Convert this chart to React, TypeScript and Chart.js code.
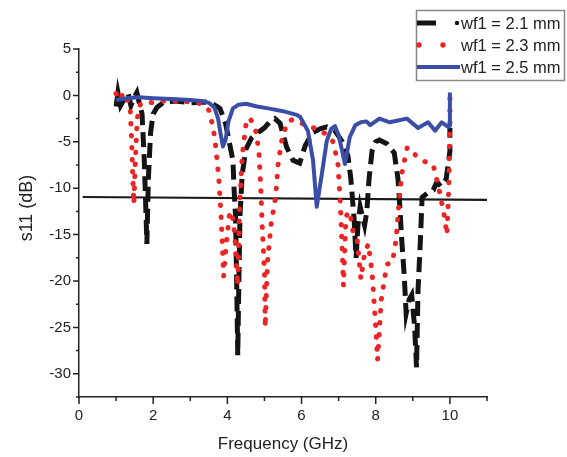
import React, { useEffect, useRef } from 'react';
import { Chart, registerables } from 'chart.js';

Chart.register(...registerables);

// ---- data ----
const seriesLabels = ['wf1 = 2.1 mm', 'wf1 = 2.3 mm', 'wf1 = 2.5 mm'];

const freq21 = [1.0, 1.05, 1.12, 1.22, 1.32, 1.4, 1.48, 1.56, 1.63, 1.7, 1.76, 1.8, 1.83, 1.87, 1.93, 2.0, 2.1, 2.26, 2.6, 3.0, 3.4, 3.6, 3.8, 3.95, 4.05, 4.15, 4.18, 4.22, 4.25, 4.28, 4.31, 4.34, 4.4, 4.5, 4.65, 4.83, 5.0, 5.15, 5.28, 5.42, 5.6, 5.77, 5.95, 6.1, 6.3, 6.5, 6.68, 6.9, 7.1, 7.25, 7.33, 7.38, 7.42, 7.47, 7.52, 7.58, 7.7, 7.76, 7.82, 7.9, 8.0, 8.1, 8.3, 8.5, 8.6, 8.65, 8.7, 8.77, 8.82, 8.9, 8.97, 9.05, 9.1, 9.14, 9.2, 9.25, 9.4, 9.55, 9.65, 9.75, 9.9, 10.0, 10.0];
const s11_21 = [-1.2, 0.3, -1.1, -0.4, 0.3, -1.1, -0.3, 0.3, -0.9, -2, -7, -12, -16, -9, -4, -2, -1.3, -0.8, -0.6, -0.8, -0.7, -0.9, -1.4, -3, -5, -7, -10, -13, -20, -28, -20, -13, -8.5, -5.8, -4.6, -4, -3.5, -2.8, -2.5, -3.0, -5.6, -7, -7.3, -5.4, -4, -3.6, -3.4, -3.8, -5, -6.5, -9, -11.5, -13.5, -17.5, -14, -12, -14, -12.5, -9, -6, -5, -4.8, -5.2, -6.2, -9, -12, -15.5, -19.5, -23.5, -22, -21.5, -25, -29.3, -21, -16, -11, -10.5, -10.2, -9.3, -9.8, -9, -6, -3.5];

const freq23 = [1.0, 1.1, 1.2, 1.3, 1.38, 1.42, 1.45, 1.48, 1.52, 1.57, 1.65, 1.8, 2.0, 2.3, 2.7, 3.0, 3.3, 3.5, 3.62, 3.7, 3.77, 3.83, 3.9, 3.97, 4.05, 4.12, 4.2, 4.28, 4.33, 4.4, 4.5, 4.6, 4.75, 4.85, 4.9, 4.95, 5.0, 5.02, 5.08, 5.18, 5.3, 5.37, 5.47, 5.6, 5.75, 6.0, 6.2, 6.45, 6.7, 6.85, 6.98, 7.05, 7.1, 7.13, 7.2, 7.3, 7.4, 7.5, 7.6, 7.7, 7.8, 7.9, 7.95, 8.0, 8.05, 8.15, 8.3, 8.45, 8.55, 8.62, 8.7, 8.85, 9.0, 9.25, 9.55, 9.7, 9.85, 9.92, 9.97, 10.0, 10.0];
const s11_23 = [0.2, -0.5, 0.3, -0.4, -1.5, -5, -9, -11.7, -7, -2.5, -1.0, -0.7, -0.8, -0.6, -0.6, -0.7, -0.9, -1.6, -3.5, -6, -9, -13, -19.5, -16, -13, -12.5, -15, -20.5, -12, -6.5, -3.2, -2.4, -3.5, -6, -10, -15, -19, -25, -18, -13.8, -11, -7.3, -4.8, -3, -2.6, -3.0, -3.4, -3.6, -4.3, -5, -7.3, -12, -17, -20.5, -13, -12.5, -15, -15.5, -19.8, -17, -16, -19, -22, -25, -28.5, -22, -18.2, -18, -15.5, -12, -8.5, -5.6, -6.2, -7, -7.5, -10, -13, -15, -10, -3, 0.3];

const freq25 = [1.0, 1.3, 1.6, 2.0, 2.5, 3.0, 3.3, 3.5, 3.65, 3.75, 3.82, 3.88, 3.95, 4.03, 4.15, 4.3, 4.5, 4.8, 5.1, 5.5, 5.87, 5.96, 6.17, 6.31, 6.41, 6.55, 6.68, 6.8, 6.9, 7.0, 7.09, 7.17, 7.3, 7.45, 7.6, 7.75, 7.85, 8.1, 8.38, 8.6, 8.84, 9.14, 9.41, 9.6, 9.78, 9.95, 10.0, 10.0];
const s11_25 = [-0.5, -0.3, -0.2, -0.3, -0.4, -0.5, -0.6, -0.8, -1.3, -2.5, -4.2, -5.5, -4.8, -2.8, -1.4, -1.0, -0.9, -1.2, -1.4, -1.7, -2.1, -2.3, -3.8, -7, -12, -8.4, -4.9, -3.6, -3.3, -4.3, -5.9, -7.4, -4.5, -3.2, -2.9, -2.8, -3.2, -2.5, -2.9, -2.7, -2.5, -3.5, -2.9, -3.8, -2.9, -3.4, -3.3, 0.3];

const refLineX = [0.1, 11];
const refLineY = [-10.95, -11.25];

const xTickValues = [0, 2, 4, 6, 8, 10];
const yTickValues = [5, 0, -5, -10, -15, -20, -25, -30];

const FONT = "'Liberation Sans', Arial, sans-serif";
const colors = ['#141414', '#ee2424', '#3a4ea8'];

const toPts = (xs: number[], ys: number[]) => xs.map((x, i) => ({ x, y: ys[i] }));

const decorPlugin = {
  id: 'decor',
  afterDraw(chart: any) {
    const ctx = chart.ctx;
    const xs = chart.scales.x;
    const ys = chart.scales.y;
    const area = chart.chartArea;
    ctx.save();
    // tick marks (major + minor)
    ctx.strokeStyle = '#222';
    ctx.lineWidth = 1.5;
    ctx.beginPath();
    for (let v = 0; v <= 11; v++) {
      const px = xs.getPixelForValue(v);
      const len = xTickValues.includes(v) ? 7 : 4;
      ctx.moveTo(px, area.bottom);
      ctx.lineTo(px, area.bottom + len);
    }
    for (let v = 5; v >= -32.5; v -= 2.5) {
      const py = ys.getPixelForValue(v);
      const len = yTickValues.includes(v) ? 6 : 3;
      ctx.moveTo(area.left - len, py);
      ctx.lineTo(area.left, py);
    }
    ctx.stroke();

    // y-axis title
    ctx.save();
    ctx.translate(27, 208);
    ctx.rotate(-Math.PI / 2);
    ctx.fillStyle = '#222';
    ctx.font = `18px ${FONT}`;
    ctx.textAlign = 'center';
    ctx.textBaseline = 'middle';
    ctx.fillText('s11 (dB)', 0, 0);
    ctx.restore();

    // legend box
    const bx = 416, by = 10, bw = 148, bh = 70;
    ctx.fillStyle = '#fff';
    ctx.fillRect(bx, by, bw, bh);
    ctx.strokeStyle = '#888';
    ctx.lineWidth = 1.5;
    ctx.strokeRect(bx + 0.5, by + 0.5, bw, bh);
    const rows = [23, 45, 67];
    // sample 1: dash + dot
    ctx.strokeStyle = colors[0];
    ctx.lineWidth = 5;
    ctx.lineCap = 'butt';
    ctx.beginPath();
    ctx.moveTo(417, rows[0]);
    ctx.lineTo(436, rows[0]);
    ctx.stroke();
    ctx.fillStyle = colors[0];
    ctx.beginPath();
    ctx.arc(457, rows[0], 2.2, 0, Math.PI * 2);
    ctx.fill();
    // sample 2: dots
    ctx.fillStyle = colors[1];
    [419, 443].forEach((x) => {
      ctx.beginPath();
      ctx.arc(x, rows[1], 2.7, 0, Math.PI * 2);
      ctx.fill();
    });
    // sample 3: solid
    ctx.strokeStyle = colors[2];
    ctx.lineWidth = 4;
    ctx.beginPath();
    ctx.moveTo(417, rows[2]);
    ctx.lineTo(460, rows[2]);
    ctx.stroke();
    // texts
    ctx.fillStyle = '#222';
    ctx.font = `16.5px ${FONT}`;
    ctx.textAlign = 'left';
    ctx.textBaseline = 'middle';
    seriesLabels.forEach((t, i) => {
      ctx.fillText(t, 461, rows[i] + 1);
    });
    ctx.restore();
  },
};

export default function App() {
  const ref = useRef<HTMLCanvasElement>(null);
  useEffect(() => {
    if (!ref.current) return;
    const chart = new Chart(ref.current, {
      type: 'line',
      data: {
        datasets: [
          {
            label: seriesLabels[0],
            data: toPts(freq21, s11_21),
            borderColor: colors[0],
            borderWidth: 5,
            borderDash: [15, 7],
            pointRadius: 0,
            tension: 0,
            order: 2,
          },
          {
            label: seriesLabels[1],
            data: toPts(freq23, s11_23),
            borderColor: colors[1],
            borderWidth: 5,
            borderDash: [0.5, 11.5],
            borderCapStyle: 'round',
            pointRadius: 0,
            tension: 0,
            order: 1,
          },
          {
            label: seriesLabels[2],
            data: toPts(freq25, s11_25),
            borderColor: colors[2],
            borderWidth: 4,
            borderJoinStyle: 'round',
            pointRadius: 0,
            tension: 0,
            order: 0,
          },
          {
            label: 'ref',
            data: toPts(refLineX, refLineY),
            borderColor: '#1a1a1a',
            borderWidth: 2.2,
            pointRadius: 0,
            order: 3,
          },
        ],
      },
      options: {
        responsive: false,
        animation: false,
        events: [],
        layout: { padding: { left: 0, top: 49, right: 80, bottom: 0 } },
        plugins: { legend: { display: false }, tooltip: { enabled: false } },
        scales: {
          x: {
            type: 'linear',
            min: 0,
            max: 11,
            ticks: {
              stepSize: 2,
              includeBounds: false,
              autoSkip: false,
              maxRotation: 0,
              padding: 10,
              color: '#222',
              font: { family: FONT, size: 15 },
            },
            grid: { drawOnChartArea: false, drawTicks: false },
            border: { display: true, color: '#222', width: 1.5 },
            title: {
              display: true,
              text: 'Frequency (GHz)',
              color: '#222',
              font: { family: FONT, size: 17 },
              padding: { top: 0, bottom: 2 },
            },
            afterFit: (s: any) => {
              s.height = 60;
            },
          },
          y: {
            type: 'linear',
            min: -32.5,
            max: 5,
            ticks: {
              stepSize: 5,
              includeBounds: false,
              autoSkip: false,
              padding: 8,
              color: '#222',
              font: { family: FONT, size: 15 },
            },
            grid: { drawOnChartArea: false, drawTicks: false },
            border: { display: true, color: '#222', width: 1.5 },
            afterFit: (s: any) => {
              s.width = 79;
            },
          },
        },
      },
      plugins: [decorPlugin],
    } as any);
    return () => chart.destroy();
  }, []);
  return (
    <div style={{ position: 'fixed', left: 0, top: 0, width: 567, height: 457, background: '#fff' }}>
      <canvas ref={ref} width={567} height={457} style={{ width: 567, height: 457, display: 'block' }} />
    </div>
  );
}
